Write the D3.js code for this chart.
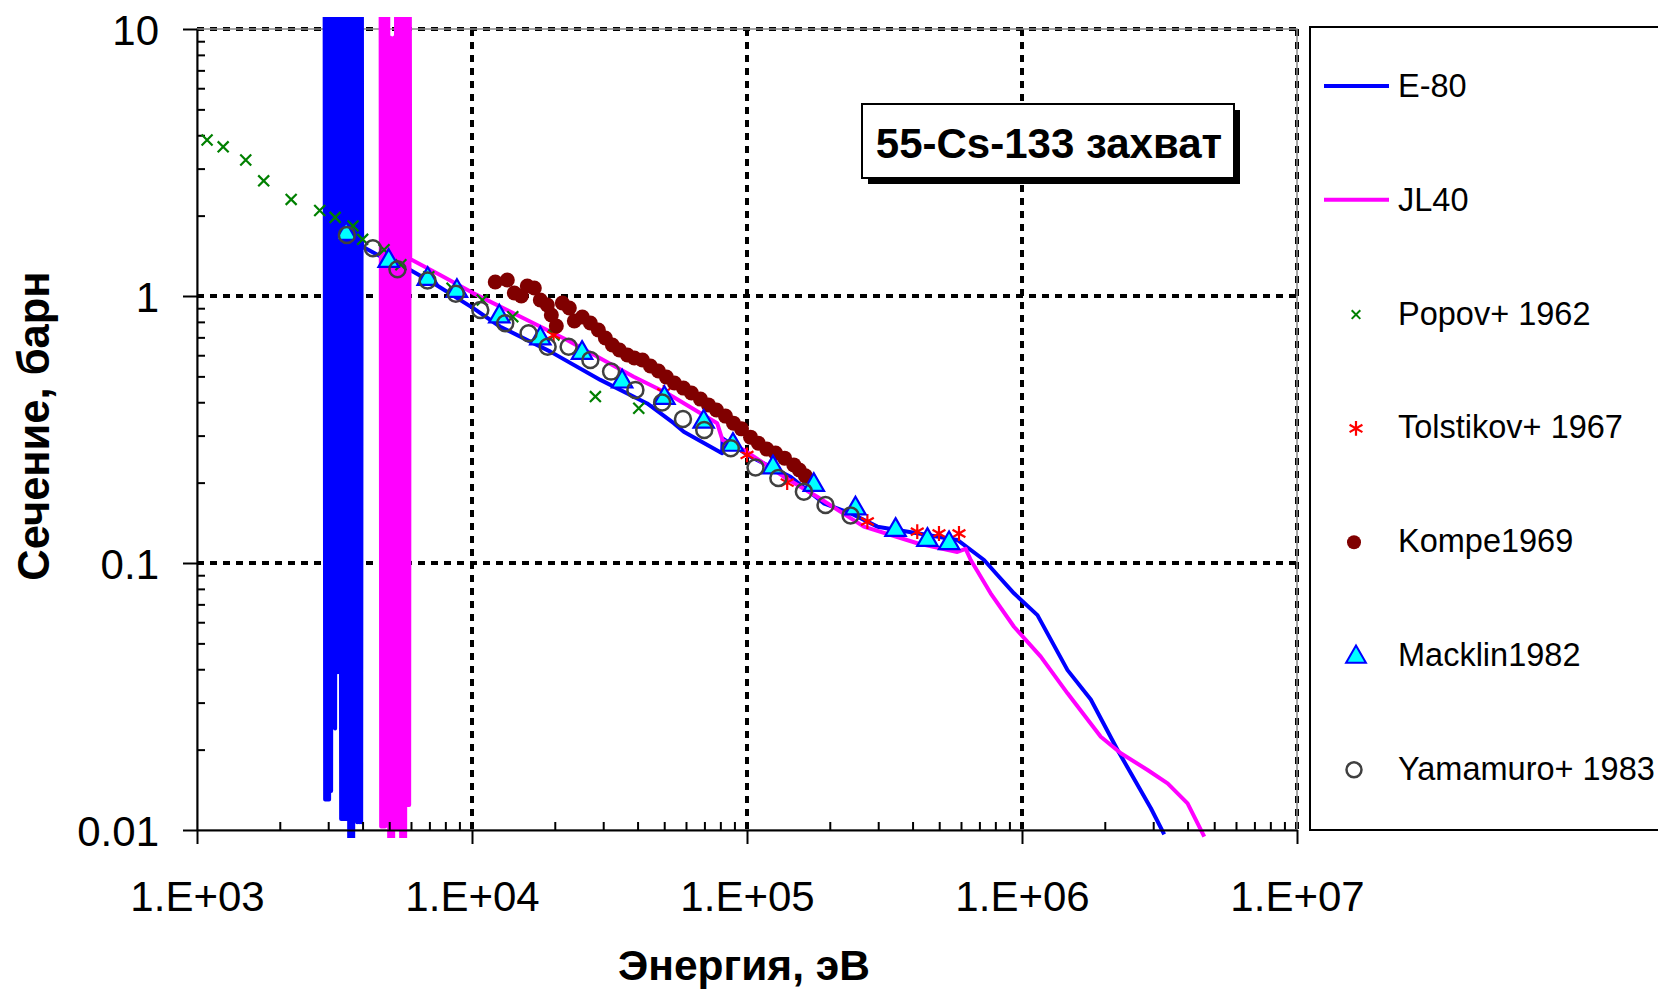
<!DOCTYPE html>
<html>
<head>
<meta charset="utf-8">
<script src="https://cdn.jsdelivr.net/npm/d3@7"></script>
<style>
body { margin: 0; background: #fff; }
svg { display: block; font-family: "Liberation Sans", Arial, sans-serif; }
</style>
</head>
<body>
<svg width="1658" height="989"></svg>
<script>
// energies in eV, cross sections in barn
var e80Res = [
	[2910, 30], [2924, 0.013], [2949, 30], [2973, 0.013], [2998, 30], [3023, 0.013],
	[3049, 30], [3074, 0.014], [3100, 30], [3126, 0.039], [3153, 30], [3179, 0.024],
	[3206, 30], [3233, 0.039], [3260, 30], [3288, 0.039], [3315, 30], [3343, 0.011],
	[3372, 30], [3400, 0.011], [3429, 30], [3458, 0.011], [3487, 30], [3516, 0.011],
	[3546, 30], [3576, 0.009], [3606, 30], [3636, 0.009], [3667, 30], [3698, 0.009],
	[3729, 30], [3760, 0.0155], [3792, 30], [3824, 0.0107], [3856, 30], [3888, 0.0107],
	[3921, 30], [3954, 0.0107], [3975, 30]
];
var e80 = [
	[3986, 1.532], [4915, 1.364], [5961, 1.251], [7245, 1.116], [10130, 0.899],
	[12670, 0.767], [19270, 0.619], [29300, 0.485], [43350, 0.396], [54150, 0.334],
	[58900, 0.310], [81200, 0.2576], [81500, 0.293], [103000, 0.250], [144000, 0.2105],
	[190000, 0.1674], [238000, 0.1535], [298000, 0.1368], [416000, 0.1292], [582000, 0.122],
	[728000, 0.1026], [814000, 0.0902], [935000, 0.077], [1138000, 0.0638], [1464000, 0.0397],
	[1779000, 0.0308], [2226000, 0.01994], [2942000, 0.01206], [3289000, 0.00963]
];
var jl40Res = [
	[4650, 30], [4674, 0.0103], [4713, 30], [4753, 0.0103], [4793, 30], [4833, 0.0103],
	[4874, 30], [4915, 0.0132], [4956, 30], [4998, 0.009], [5040, 9.3], [5082, 0.009],
	[5125, 9.2], [5168, 0.009], [5211, 9.3], [5255, 0.0101], [5299, 30], [5344, 0.0101],
	[5389, 9.9], [5434, 0.0101], [5480, 30], [5526, 0.009], [5572, 30], [5619, 0.009],
	[5666, 30], [5714, 0.009], [5762, 30], [5811, 0.0124], [5860, 30], [5909, 0.0124],
	[5935, 30]
];
var jl40 = [
	[5961, 1.376], [7660, 1.198], [10130, 1.023], [16750, 0.790], [22160, 0.684],
	[38730, 0.4986], [51240, 0.432], [77900, 0.334], [81400, 0.289], [97400, 0.265],
	[136000, 0.2105], [180000, 0.177], [266000, 0.1368], [416000, 0.1186], [582000, 0.110],
	[624000, 0.113], [651000, 0.1026], [769000, 0.077], [935000, 0.0577], [1170000, 0.0446],
	[1464000, 0.0325], [1934000, 0.02236], [2288000, 0.01938], [2862000, 0.01678],
	[3384000, 0.01496], [4000000, 0.01259], [4600000, 0.00944]
];
var popov = [
	[1088, 3.84], [1245, 3.62], [1504, 3.23], [1748, 2.70], [2200, 2.30], [2794, 2.09],
	[3180, 1.97], [3693, 1.83], [4003, 1.63], [4789, 1.49], [5513, 1.31], [6965, 1.18],
	[8460, 1.069], [10900, 0.966], [14070, 0.837], [19860, 0.714], [28100, 0.420], [40400, 0.380]
];
var tolstikov = [
	[19800, 0.714], [49800, 0.435], [100000, 0.254], [140000, 0.200], [274000, 0.143],
	[416000, 0.131], [499000, 0.129], [590000, 0.129]
];
var kompe = [
	[12150, 1.128], [13440, 1.148], [14250, 1.026], [15110, 1.0], [15890, 1.09], [16850, 1.071],
	[17720, 0.966], [18790, 0.925], [19430, 0.849], [20260, 0.772], [21310, 0.941], [22590, 0.902],
	[23560, 0.806], [25190, 0.834], [26940, 0.792], [28810, 0.746], [30550, 0.696], [32390, 0.655],
	[34360, 0.628], [36740, 0.601], [38950, 0.586], [41660, 0.576], [44550, 0.547], [47640, 0.524],
	[50930, 0.497], [54470, 0.472], [58740, 0.452], [62810, 0.433], [67720, 0.411], [72420, 0.391],
	[77450, 0.374], [83500, 0.355], [89300, 0.334], [95500, 0.318], [103000, 0.296], [110000, 0.281],
	[118000, 0.267], [127000, 0.258], [137000, 0.247], [148000, 0.233], [155000, 0.223], [163000, 0.212]
];
var macklin = [
	[3486, 1.707], [4977, 1.352], [6901, 1.158], [8815, 1.044], [12570, 0.838], [17720, 0.693],
	[25130, 0.612], [35150, 0.478], [50100, 0.415], [69600, 0.338], [88900, 0.277], [124300, 0.228],
	[175000, 0.196], [248000, 0.160], [347000, 0.133], [453000, 0.122], [543000, 0.1186]
];
var yamamuro = [
	[3507, 1.692], [4360, 1.509], [5358, 1.259], [6890, 1.143], [8730, 1.020], [10720, 0.886],
	[13210, 0.790], [16060, 0.725], [18840, 0.646], [22460, 0.646], [26940, 0.576], [32040, 0.521],
	[39280, 0.445], [49130, 0.399], [58500, 0.346], [69900, 0.315], [87300, 0.269], [107400, 0.228],
	[130000, 0.208], [161000, 0.185], [193000, 0.165], [238000, 0.1506]
];
var xMajor = [1e3, 1e4, 1e5, 1e6, 1e7];
var yMajor = [0.01, 0.1, 1, 10];
var yTickLabels = ["0.01", "0.1", "1", "10"];
var legendNames = ["E-80", "JL40", "Popov+ 1962", "Tolstikov+ 1967", "Kompe1969", "Macklin1982", "Yamamuro+ 1983"];

var plotLeft = 197, plotRight = 1297, plotTop = 29, plotBottom = 830;
var svg = d3.select('svg');

var xScale = d3.scaleLog().domain([1e3, 1e7]).range([plotLeft, plotRight]);
var yScale = d3.scaleLog().domain([0.01, 10]).range([plotBottom, plotTop]);

// grid
svg.append('g').selectAll('line')
	.data(yMajor.slice(1))
	.enter().append('line')
	.attr('x1', plotLeft).attr('x2', plotRight)
	.attr('y1', d => yScale(d)).attr('y2', d => yScale(d))
	.attr('stroke', '#000').attr('stroke-width', 4).attr('stroke-dasharray', '7,6');
svg.append('g').selectAll('line')
	.data(xMajor.slice(1))
	.enter().append('line')
	.attr('x1', d => xScale(d)).attr('x2', d => xScale(d))
	.attr('y1', plotTop).attr('y2', plotBottom)
	.attr('stroke', '#000').attr('stroke-width', 4).attr('stroke-dasharray', '7,6');
svg.append('rect')
	.attr('x', plotLeft).attr('y', plotTop)
	.attr('width', plotRight - plotLeft).attr('height', plotBottom - plotTop)
	.attr('fill', 'none').attr('stroke', '#888').attr('stroke-width', 1.5);

// curves
svg.append('clipPath').attr('id', 'plotclip')
	.append('rect').attr('x', plotLeft - 12).attr('y', plotTop - 12)
	.attr('width', plotRight - plotLeft + 24).attr('height', plotBottom - plotTop + 20);

var line = d3.line()
	.x(d => xScale(d[0]))
	.y(d => yScale(d[1]));

var curves = svg.append('g').attr('clip-path', 'url(#plotclip)');
curves.append('path')
	.attr('d', line(e80Res.concat(e80)))
	.attr('fill', 'none').attr('stroke', '#0000ff').attr('stroke-width', 4)
	.attr('stroke-linejoin', 'round');
curves.append('path')
	.attr('d', line(jl40Res.concat(jl40)))
	.attr('fill', 'none').attr('stroke', '#ff00ff').attr('stroke-width', 4)
	.attr('stroke-linejoin', 'round');

// axes
var yAxis = d3.axisLeft(yScale)
	.tickValues(yMajor)
	.tickSize(14).tickSizeOuter(0).tickPadding(24)
	.tickFormat((d, i) => yTickLabels[i]);
var yAxisG = svg.append('g')
	.attr('transform', `translate(${plotLeft},0)`)
	.call(yAxis);
var yMinor = yScale.ticks().filter(d => yMajor.indexOf(d) < 0);
svg.append('g')
	.attr('transform', `translate(${plotLeft},0)`)
	.call(d3.axisLeft(yScale).tickValues(yMinor).tickSize(-8).tickSizeOuter(0).tickFormat(''))
	.call(g => g.select('.domain').remove());

var xAxis = d3.axisBottom(xScale)
	.tickValues(xMajor)
	.tickSize(14).tickSizeOuter(0).tickPadding(37)
	.tickFormat(d => '1.E+' + String(Math.round(Math.log10(d))).padStart(2, '0'));
var xAxisG = svg.append('g')
	.attr('transform', `translate(0,${plotBottom})`)
	.call(xAxis);
var xMinor = xScale.ticks().filter(d => xMajor.indexOf(d) < 0);
svg.append('g')
	.attr('transform', `translate(0,${plotBottom})`)
	.call(d3.axisBottom(xScale).tickValues(xMinor).tickSize(-8).tickSizeOuter(0).tickFormat(''))
	.call(g => g.select('.domain').remove());

svg.selectAll('.domain, .tick line').attr('stroke', '#000').attr('stroke-width', 2);
yAxisG.selectAll('text').attr('font-size', 42).attr('dy', '0.37em')
	.attr('font-family', '"Liberation Sans", Arial, sans-serif').attr('fill', '#000');
xAxisG.selectAll('text').attr('font-size', 42)
	.attr('font-family', '"Liberation Sans", Arial, sans-serif').attr('fill', '#000');

svg.append('text')
	.attr('x', 744).attr('y', 980)
	.attr('text-anchor', 'middle')
	.attr('font-size', 42.5).attr('font-weight', 'bold')
	.text('Энергия, эВ');
svg.append('text')
	.attr('transform', 'rotate(-90)')
	.attr('x', -426).attr('y', 49)
	.attr('text-anchor', 'middle')
	.attr('font-size', 43.5).attr('font-weight', 'bold')
	.text('Сечение, барн');

// markers
var timesSym = d3.symbol().type(d3.symbolTimes).size(80);
var starSym = d3.symbol().type(d3.symbolAsterisk).size(155);
var triSym = d3.symbol().type(d3.symbolTriangle).size(180);

svg.append('g').selectAll('path')
	.data(popov).enter().append('path')
	.attr('transform', d => `translate(${xScale(d[0])},${yScale(d[1])})`)
	.attr('d', timesSym)
	.attr('fill', 'none').attr('stroke', '#008000').attr('stroke-width', 2.2);
svg.append('g').selectAll('path')
	.data(tolstikov).enter().append('path')
	.attr('transform', d => `translate(${xScale(d[0])},${yScale(d[1])})`)
	.attr('d', starSym)
	.attr('fill', 'none').attr('stroke', '#ff0000').attr('stroke-width', 2.2);
svg.append('g').selectAll('circle')
	.data(kompe).enter().append('circle')
	.attr('cx', d => xScale(d[0])).attr('cy', d => yScale(d[1]))
	.attr('r', 7.5)
	.attr('fill', '#800000');
svg.append('g').selectAll('path')
	.data(macklin).enter().append('path')
	.attr('transform', d => `translate(${xScale(d[0])},${yScale(d[1])})`)
	.attr('d', triSym)
	.attr('fill', '#00ffff').attr('stroke', '#0000ff').attr('stroke-width', 2.2);
svg.append('g').selectAll('circle')
	.data(yamamuro).enter().append('circle')
	.attr('cx', d => xScale(d[0])).attr('cy', d => yScale(d[1]))
	.attr('r', 8)
	.attr('fill', 'none').attr('stroke', '#404040').attr('stroke-width', 2.5);

// title box
svg.append('rect')
	.attr('x', 868).attr('y', 110).attr('width', 372).attr('height', 74)
	.attr('fill', '#000');
svg.append('rect')
	.attr('x', 862).attr('y', 104).attr('width', 372).attr('height', 74)
	.attr('fill', '#fff').attr('stroke', '#000').attr('stroke-width', 2);
svg.append('text')
	.attr('x', 1049).attr('y', 158)
	.attr('text-anchor', 'middle')
	.attr('font-size', 42).attr('font-weight', 'bold')
	.text('55-Cs-133 захват');

// legend
svg.append('rect')
	.attr('x', 1310).attr('y', 27).attr('width', 400).attr('height', 803)
	.attr('fill', '#fff').attr('stroke', '#000').attr('stroke-width', 2);
var leg = svg.append('g').selectAll('g')
	.data(legendNames).enter().append('g')
	.attr('transform', (d, i) => `translate(0,${97 + i * 113.8})`);
leg.append('text')
	.attr('x', 1398).attr('y', 0)
	.attr('font-size', 32.5)
	.text(d => d);
leg.filter((d, i) => i < 2).append('line')
	.attr('x1', 1324).attr('x2', 1389).attr('y1', -11).attr('y2', -11)
	.attr('stroke', (d, i) => i === 0 ? '#0000ff' : '#ff00ff').attr('stroke-width', 4);
leg.filter((d, i) => i === 2).append('path')
	.attr('transform', 'translate(1356,-10)')
	.attr('d', d3.symbol().type(d3.symbolTimes).size(50))
	.attr('fill', 'none').attr('stroke', '#008000').attr('stroke-width', 2);
leg.filter((d, i) => i === 3).append('path')
	.attr('transform', 'translate(1356,-10)')
	.attr('d', starSym)
	.attr('fill', 'none').attr('stroke', '#ff0000').attr('stroke-width', 2.2);
leg.filter((d, i) => i === 4).append('circle')
	.attr('cx', 1354).attr('cy', -10).attr('r', 7)
	.attr('fill', '#800000');
leg.filter((d, i) => i === 5).append('path')
	.attr('transform', 'translate(1356,-9)')
	.attr('d', d3.symbol().type(d3.symbolTriangle).size(170))
	.attr('fill', '#00ffff').attr('stroke', '#0000ff').attr('stroke-width', 2);
leg.filter((d, i) => i === 6).append('circle')
	.attr('cx', 1354).attr('cy', -10).attr('r', 7.5)
	.attr('fill', 'none').attr('stroke', '#404040').attr('stroke-width', 2.5);
</script>
</body>
</html>
